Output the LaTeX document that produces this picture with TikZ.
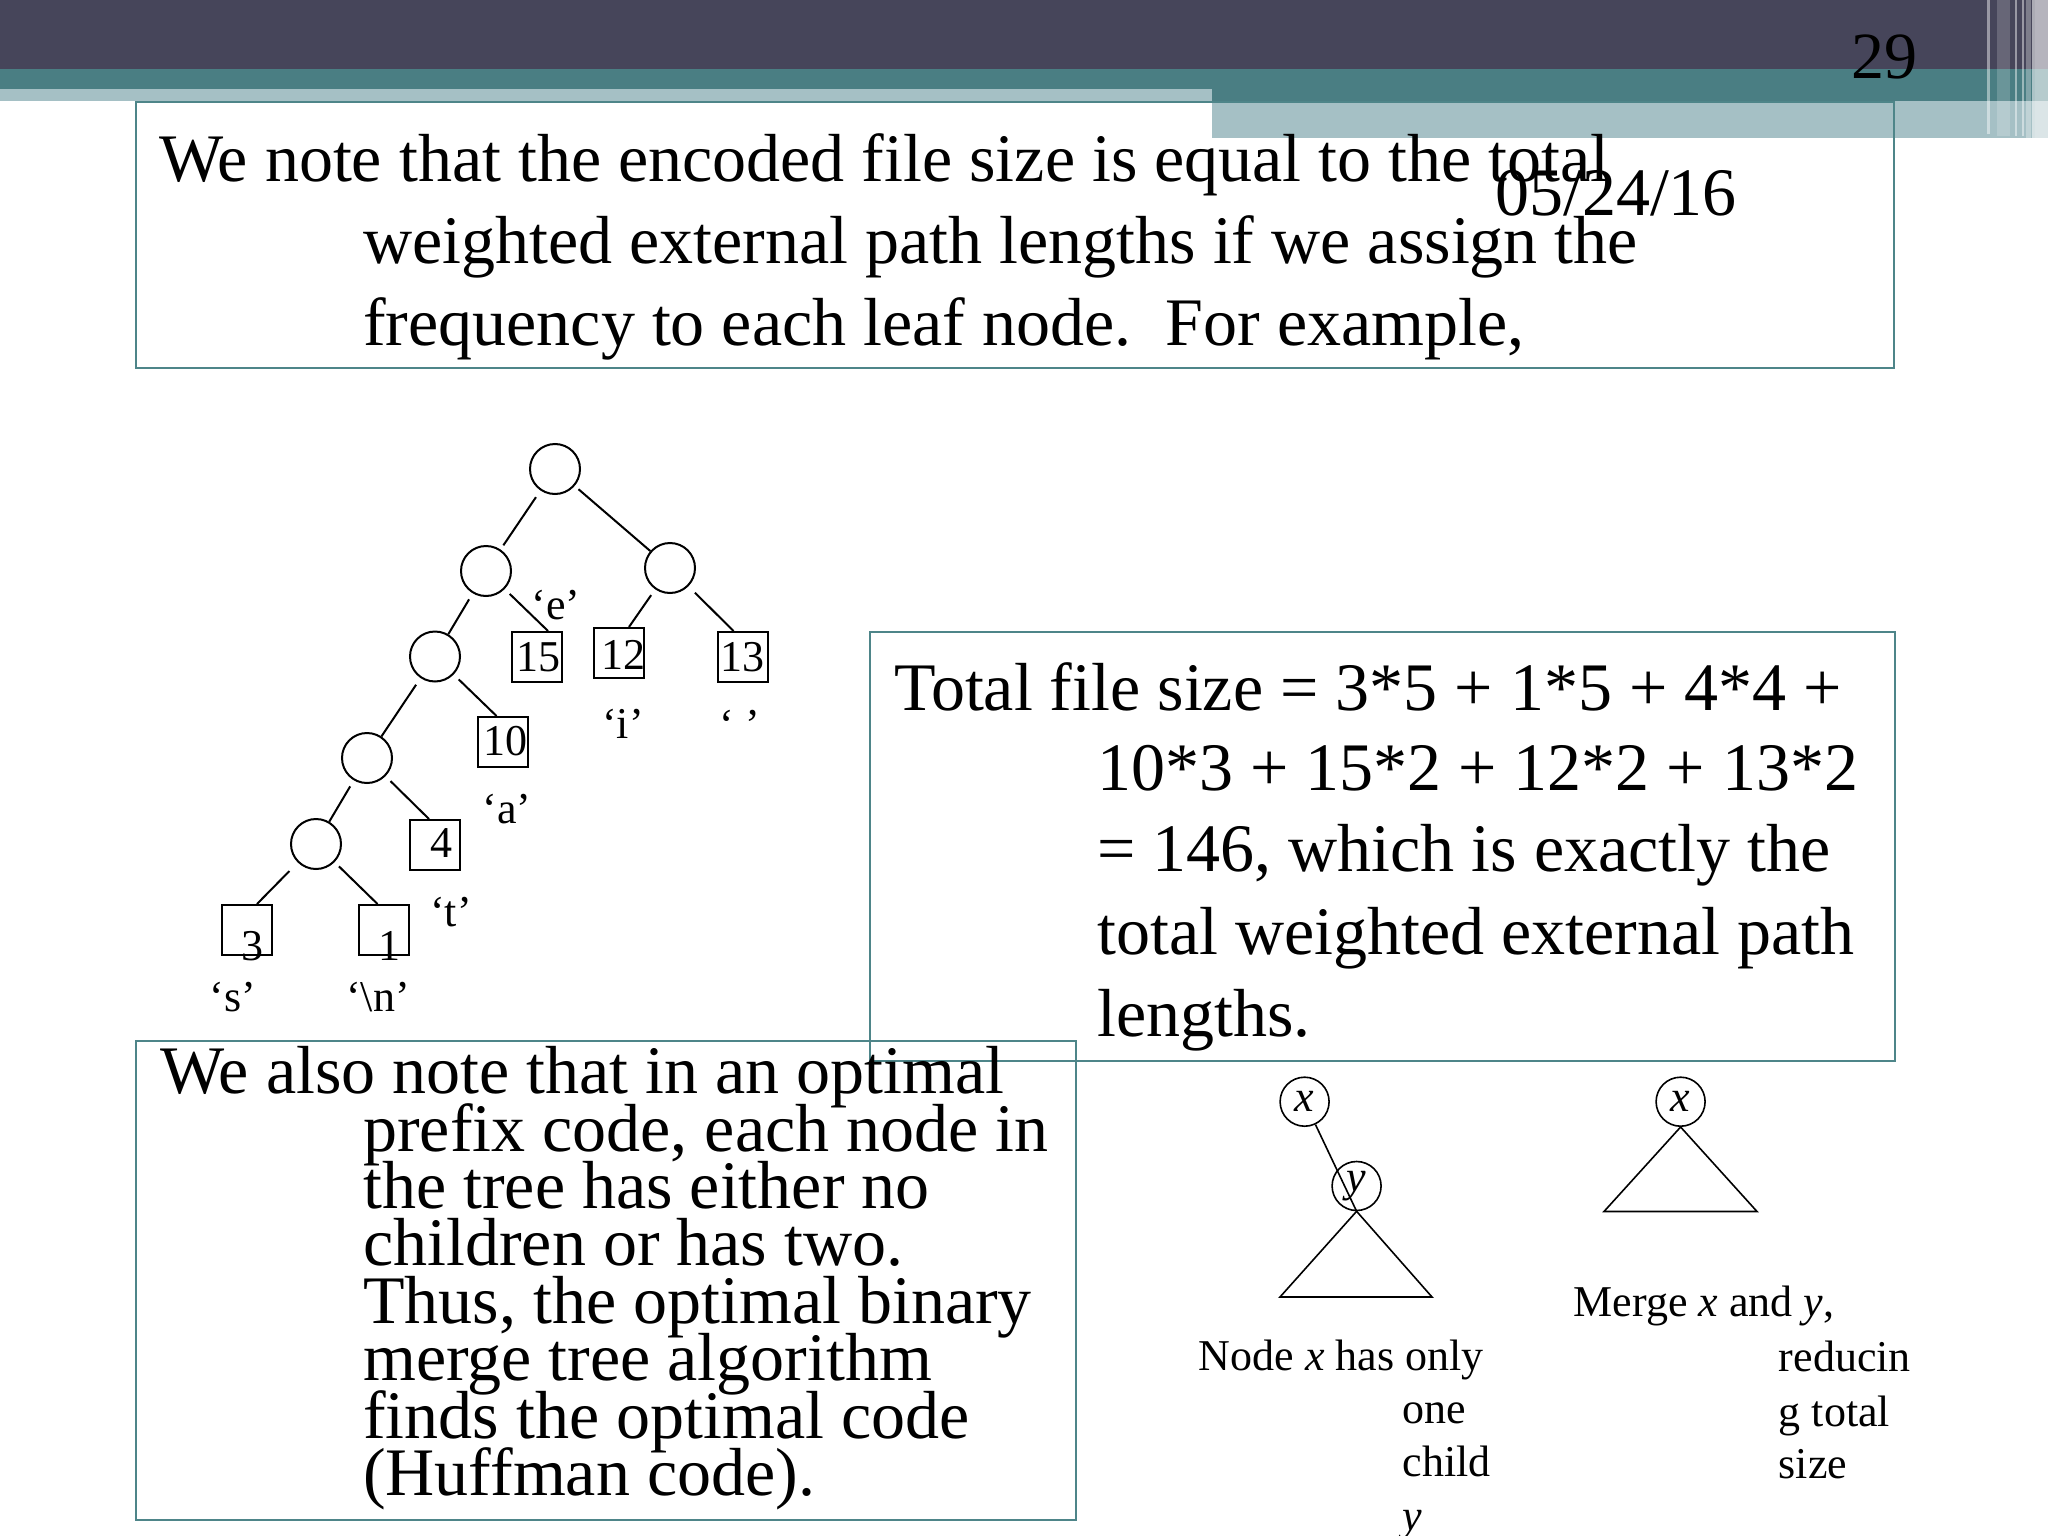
\documentclass[tikz,border=0pt]{standalone}
\usepackage{fontspec}
\setmainfont{Liberation Serif}
\definecolor{darkbar}{HTML}{46455A}
\definecolor{tealbar}{HTML}{4A7E83}
\definecolor{lightbar}{HTML}{A5C0C5}
\definecolor{boxc}{HTML}{4E8589}
\begin{document}
\begin{tikzpicture}[x=1pt,y=-1pt,
  bigtxt/.style={font=\fontsize{68}{80}\selectfont, anchor=base west, inner sep=0pt},
  smalltxt/.style={font=\fontsize{44}{52}\selectfont, inner sep=0pt},
  inode/.style={draw, circle, minimum size=50pt, inner sep=0pt, line width=2pt},
  leaf/.style={draw, rectangle, minimum size=50pt, inner sep=0pt, line width=2pt},
  treeline/.style={line width=2pt},
  boxframe/.style={draw=boxc, line width=2.2pt},
]
\useasboundingbox (0,0) rectangle (2048,1536);
\fill[white] (0,0) rectangle (2048,1536);
% header bars
\fill[darkbar] (0,0) rectangle (2048,69);
\fill[tealbar] (0,69) rectangle (2048,101);
\fill[lightbar] (0,89) rectangle (1212,101);
\fill[lightbar] (1212,101) rectangle (2048,138);
% right stripes
\fill[white, opacity=0.45] (1987,0) rectangle (1990,134);
\fill[white, opacity=0.18] (1997,0) rectangle (2010,136);
\fill[white, opacity=0.45] (2015,0) rectangle (2017,136);
\fill[white, opacity=0.45] (2022,0) rectangle (2024,136);
\fill[white, opacity=0.3] (2026,0) rectangle (2031,138);
\fill[white, opacity=0.55] (2032,0) rectangle (2035,138);
\fill[white, opacity=0.6] (2035,0) rectangle (2048,138);
\node[font=\fontsize{66}{70}\selectfont, anchor=base, inner sep=0pt] (pnum) at (1884,79) {29};

% box 1
\draw[boxframe] (136,102) rectangle (1894,368);
\node[bigtxt] (t1a) at (159,182) {We note that the encoded file size is equal to the total};
\node[bigtxt] (t1b) at (363,263.5) {weighted external path lengths if we assign the};
\node[bigtxt] (t1c) at (363,345) {frequency to each leaf node.\ \ For example,};
\node[font=\fontsize{68}{80}\selectfont, anchor=base, inner sep=0pt] (date) at (1616,215) {05/24/16};

% tree
\node[inode] (root) at (555,469) {};
\node[inode] (l1) at (486,571) {};
\node[inode] (r1) at (670,568) {};
\node[inode] (l2) at (435,656.5) {};
\node[inode] (l3) at (367,758) {};
\node[inode] (l4) at (316,844) {};
\node[leaf] (b15) at (537,657) {};
\node[leaf] (b12) at (619,653) {};
\node[leaf] (b13) at (742.5,657) {};
\node[leaf] (b10) at (503,742) {};
\node[leaf] (b4) at (435,845) {};
\node[leaf] (b3) at (247,930) {};
\node[leaf] (b1) at (384,930) {};
\draw[treeline, shorten <=8pt, shorten >=5pt] (root) -- (l1);
\draw[treeline, shorten <=5pt] (root) -- (r1);
\draw[treeline, shorten <=7pt] (l1) -- (l2);
\draw[treeline, shorten <=8pt] (l2) -- (l3);
\draw[treeline, shorten <=7pt] (l3) -- (l4);
\draw[treeline, shorten <=7pt] (l1) -- (b15.67);
\draw[treeline, shorten <=7pt] (r1) -- (b12.69);
\draw[treeline, shorten <=9pt] (r1) -- (b13.109);
\draw[treeline, shorten <=7pt] (l2) -- (b10.104);
\draw[treeline, shorten <=7pt] (l3) -- (b4.103);
\draw[treeline, shorten <=12pt] (l4) -- (b3.69);
\draw[treeline, shorten <=6pt] (l4) -- (b1.104);
\node[smalltxt, anchor=base] (n15) at (538,671) {15};
\node[smalltxt, anchor=base] (n12) at (623,669) {12};
\node[smalltxt, anchor=base] (n13) at (742,671) {13};
\node[smalltxt, anchor=base] (n10) at (505,755) {10};
\node[smalltxt, anchor=base] (n4) at (441,857) {4};
\node[smalltxt, anchor=base] (n3) at (252,960) {3};
\node[smalltxt, anchor=base] (n1) at (389.5,960) {1};
\node[smalltxt, anchor=base] (le) at (556,619) {‘e’};
\node[smalltxt, anchor=base] (li) at (623,738) {‘i’};
\node[smalltxt, anchor=base] (lsp) at (740,739) {‘\ ’};
\node[smalltxt, anchor=base] (la) at (507,823) {‘a’};
\node[smalltxt, anchor=base] (lt) at (451,926) {‘t’};
\node[smalltxt, anchor=base] (ls) at (233,1011) {‘s’};
\node[smalltxt, anchor=base] (ln) at (378,1011) {‘\textbackslash n’};

% box 2
\draw[boxframe] (870,632) rectangle (1895,1061);
\node[bigtxt] (t2a) at (894,710) {Total file size = 3*5 + 1*5 + 4*4 +};
\node[bigtxt] (t2b) at (1097,790.7) {10*3 + 15*2 + 12*2 + 13*2};
\node[bigtxt] (t2c) at (1097,871.7) {= 146, which is exactly the};
\node[bigtxt] (t2d) at (1097,954) {total weighted external path};
\node[bigtxt] (t2e) at (1097,1036.7) {lengths.};

% box 3
\draw[boxframe] (136,1041) rectangle (1076,1520);
\node[bigtxt] (t3a) at (160,1093.3) {We also note that in an optimal};
\node[bigtxt] (t3b) at (363,1151.7) {prefix code, each node in};
\node[bigtxt] (t3c) at (363,1208.3) {the tree has either no};
\node[bigtxt] (t3d) at (363,1265) {children or has two.};
\node[bigtxt] (t3e) at (363,1323.3) {Thus, the optimal binary};
\node[bigtxt] (t3f) at (363,1380) {merge tree algorithm};
\node[bigtxt] (t3g) at (363,1438.3) {finds the optimal code};
\node[bigtxt] (t3h) at (363,1495) {(Huffman code).};

% bottom right figures
\node[draw, circle, minimum size=49pt, inner sep=0pt, line width=1.6pt, font=\fontsize{44}{52}\itshape] (ax) at (1304.6,1101.7) {x};
\node[draw, circle, minimum size=49pt, inner sep=0pt, line width=1.6pt, font=\fontsize{44}{52}\itshape] (ay) at (1356.6,1186) {y};
\coordinate (atl) at (1280,1297);
\coordinate (atr) at (1432,1297);
\draw[line width=1.6pt] (ax) -- (ay.south);
\draw[line width=1.6pt] (ay.south) -- (atl) -- (atr) -- cycle;
\node[draw, circle, minimum size=49pt, inner sep=0pt, line width=1.6pt, font=\fontsize{44}{52}\itshape] (bx) at (1680.6,1101.7) {x};
\coordinate (btl) at (1604,1211.5);
\coordinate (btr) at (1757,1211.5);
\draw[line width=1.6pt] (bx.south) -- (btl) -- (btr) -- cycle;
\node[smalltxt, anchor=base west] (c1a) at (1198.5,1370) {Node \textit{x} has only};
\node[smalltxt, anchor=base west] (c1b) at (1402.5,1423.3) {one};
\node[smalltxt, anchor=base west] (c1c) at (1402.5,1476.7) {child};
\node[smalltxt, anchor=base west] (c1d) at (1402.5,1530) {\textit{y}};
\node[smalltxt, anchor=base west] (c2a) at (1573.5,1316.7) {Merge \textit{x} and \textit{y},};
\node[smalltxt, anchor=base west] (c2b) at (1778.6,1371.7) {reducin};
\node[smalltxt, anchor=base west] (c2c) at (1778.6,1426.7) {g total};
\node[smalltxt, anchor=base west] (c2d) at (1778.6,1478) {size};
\end{tikzpicture}
\end{document}
